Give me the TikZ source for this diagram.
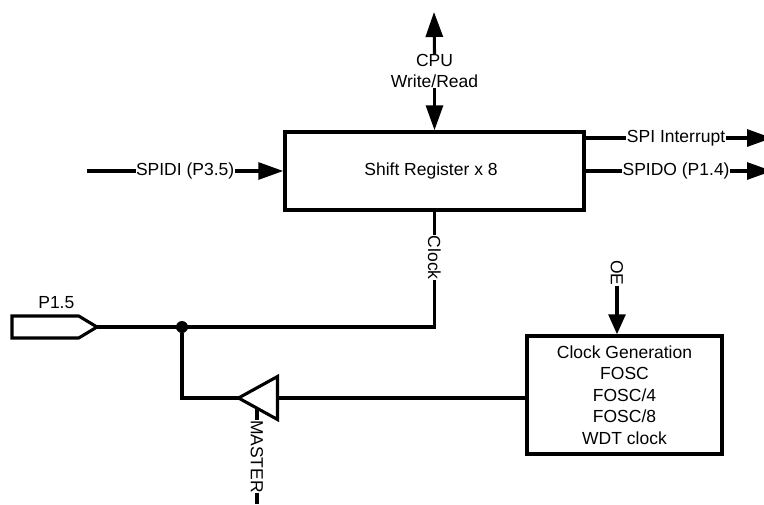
\documentclass[tikz,border=0pt]{standalone}
\usepackage{fontspec}
\setmainfont{Liberation Sans}
\usetikzlibrary{shapes.geometric, shapes.symbols, arrows.meta, positioning, calc}

\begin{document}
\begin{tikzpicture}[
    x=1pt, y=-1pt,
    font=\fontsize{17.5}{21.5}\selectfont,
    block/.style={rectangle, draw=black, line width=3.5pt, text centered, inner sep=0pt},
    wire/.style={line width=3.1pt},
    arrow/.style={wire,-{Triangle[length=25pt,width=17pt]}},
    shortarrow/.style={wire,-{Triangle[length=20pt,width=17pt]}},
    wirelabel/.style={fill=white, inner xsep=0.5pt, inner ysep=1pt},
    pin/.style={signal, signal to=east, signal pointer angle=62, draw=black, line width=3.1pt, inner sep=0pt, outer sep=0pt, minimum width=85pt, minimum height=22pt},
    buffer/.style={isosceles triangle, isosceles triangle stretches, shape border rotate=180, draw=black, line width=3.1pt, inner sep=0pt, outer sep=0pt, minimum width=43pt, minimum height=39pt}
]
    \useasboundingbox (0,0) rectangle (764,504);

    \node (shift) [block, minimum width=299pt, minimum height=78pt] at (434.5,171) {Shift Register x 8\kern7pt};
    \node (clockgen) [block, minimum width=195pt, minimum height=118pt, align=center] at (624.5,395) {Clock Generation\\FOSC\\FOSC/4\\FOSC/8\\WDT clock};
    \node (p15) [pin, anchor=east] at (97,327) {};
    \node (p15label) [above=4pt of p15, xshift=11pt] {P1.5};
    \node (tri) [buffer, anchor=apex] at (238.5,398) {};
    \node (joint) [circle, fill=black, inner sep=0pt, minimum size=12pt] at (182,327) {};

    \node (cpu) [align=center, inner sep=0pt] at (434.5,71) {CPU\\Write/Read};
    \node (oe) [rotate=-90, inner sep=0pt] at (617,273) {OE};
    \coordinate (cputop) at (434,12);
    \coordinate (spidistart) at (87,171);
    \coordinate (intend) at (772,138);
    \coordinate (doend) at (772,171);
    \coordinate (masterend) at (257,504);

    \draw [arrow] (cpu.north) -- (cputop);
    \draw [arrow] (cpu.south) -- (shift.north -| cpu);

    \draw [arrow] (spidistart) -- node[wirelabel] {SPIDI (P3.5)} (spidistart -| shift.west);
    \draw [arrow] (shift.east |- intend) -- node[wirelabel, pos=0.485] {SPI Interrupt} (intend);
    \draw [arrow] (shift.east |- doend) -- node[wirelabel, pos=0.485] {SPIDO (P1.4)} (doend);

    \draw [wire] (shift.south -| cpu) -- node[wirelabel, rotate=-90, pos=0.4] {Clock} (cpu |- p15.east) -- (p15.east);
    \draw [wire] (joint) |- (tri.apex);
    \draw [wire] (clockgen.west |- tri.apex) -- (tri.apex -| tri.lower side);
    \draw [shortarrow] (oe.east) -- (oe.east |- clockgen.north);
    \draw [wire] (masterend) -- node[wirelabel, rotate=-90, pos=0.5] {MASTER} (257,409);
\end{tikzpicture}
\end{document}
